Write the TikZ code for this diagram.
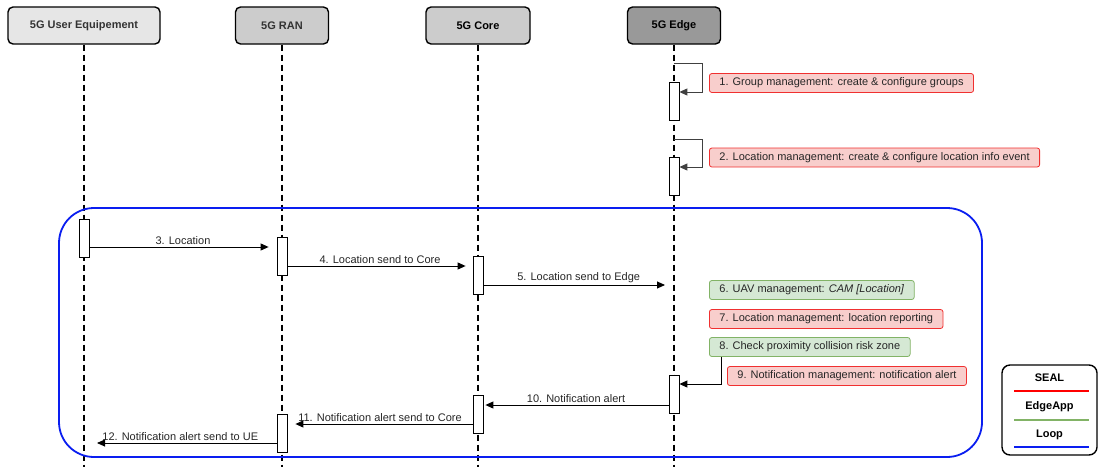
\documentclass[tikz,border=0pt]{standalone}
\usepackage{fontspec}
\setmainfont{Liberation Sans}
\usepackage{xcolor}
\definecolor{HeadLight}{HTML}{E6E6E6}
\definecolor{HeadMid}{HTML}{CCCCCC}
\definecolor{HeadDark}{HTML}{999999}
\definecolor{SealFill}{HTML}{F8CECC}
\definecolor{SealDraw}{HTML}{F03030}
\definecolor{AppFill}{HTML}{D5E8D4}
\definecolor{AppDraw}{HTML}{82B366}
\definecolor{LoopBlue}{HTML}{0A1EF0}
\definecolor{TextGrey}{HTML}{333333}
\usepackage{tikz}
\usetikzlibrary{arrows.meta, positioning, calc}

\begin{document}
\begin{tikzpicture}[
  x=1pt, y=-1pt,
  headbox/.style={rectangle, rounded corners=5pt, draw=black, line width=1.4pt,
    minimum height=37pt, inner sep=0pt, align=center,
    font=\fontsize{11}{13}\selectfont\bfseries},
  actbox/.style={rectangle, draw=black, fill=white, line width=0.8pt,
    minimum width=10pt, minimum height=38pt, inner sep=0pt},
  sealbox/.style={rectangle, rounded corners=2.5pt, draw=SealDraw, fill=SealFill,
    line width=0.8pt, minimum height=19pt, inner xsep=10pt, inner ysep=0pt,
    anchor=west, font=\fontsize{11}{13}\selectfont, text=black!85},
  appbox/.style={sealbox, draw=AppDraw, fill=AppFill},
  lifeseg/.style={draw=black, line width=1.5pt},
  msg/.style={-{Triangle[length=8pt, width=7pt]}, line width=0.9pt},
  selfmsg/.style={msg, draw=black!75},
  msglabel/.style={midway, above, inner sep=2pt, font=\fontsize{11}{13}\selectfont,
    text=black!85},
  loopframe/.style={rounded corners=35pt, draw=LoopBlue, line width=1.8pt},
  legbox/.style={rectangle, rounded corners=8pt, draw=black, line width=1.4pt,
    minimum width=95pt, minimum height=90pt},
  legtxt/.style={font=\fontsize{11}{13}\selectfont\bfseries}
]
  \useasboundingbox (0,0) rectangle (1099,466);

  \node[headbox, fill=HeadLight, text=TextGrey, minimum width=152pt] (ue)   at (84,25.5)  {5G User Equipement};
  \node[headbox, fill=HeadMid,   text=TextGrey, minimum width=93pt]  (ran)  at (282,25.5) {5G RAN};
  \node[headbox, fill=HeadMid,   minimum width=104pt]                (core) at (478,25.5) {5G Core};
  \node[headbox, fill=HeadDark,  minimum width=93pt]                 (edge) at (674,25.5) {5G Edge};

  \foreach \n in {ue,ran,core,edge}
    \foreach \k in {0,...,42}
      \draw[lifeseg] ([yshift=-\k*10pt]\n.south) -- ++(0,6);

  \draw[loopframe] (59,208) rectangle (982,457);

  \node[actbox] (edgeA1) at (674,101)   {};
  \node[actbox] (edgeA2) at (674,176.5) {};
  \node[actbox] (ueA)    at (84,238)    {};
  \node[actbox] (ranA1)  at (282,256.5) {};
  \node[actbox] (coreA1) at (478,275.5) {};
  \node[actbox] (edgeA3) at (674,394)   {};
  \node[actbox] (coreA2) at (478,414.5) {};
  \node[actbox] (ranA2)  at (282,433)   {};

  \coordinate (r1a) at (0,63);   \coordinate (r1) at (0,92);
  \coordinate (r2a) at (0,139);  \coordinate (r2) at (0,167);
  \coordinate (r3) at (0,247);   \coordinate (r4) at (0,266);
  \coordinate (r5) at (0,285);   \coordinate (r9) at (0,384);
  \coordinate (r10) at (0,405);  \coordinate (r11) at (0,424);
  \coordinate (r12) at (0,443);

  \node[sealbox] (l1) at (709,83)    {1. Group management: create \& configure groups};
  \node[sealbox] (l2) at (709,157.5) {2. Location management: create \& configure location info event};
  \node[appbox]  (l6) at (709,290)   {6. UAV management: \textit{CAM [Location]}};
  \node[sealbox] (l7) at (709,319)   {7. Location management: location reporting};
  \node[appbox]  (l8) at (709,347)   {8. Check proximity collision risk zone};
  \node[sealbox] (l9) at (727,376)   {9. Notification management: notification alert};

  \draw[selfmsg] (edge.south |- r1a) -- ++(28,0) |- (edgeA1.east |- r1);
  \draw[selfmsg] (edge.south |- r2a) -- ++(28,0) |- (edgeA2.east |- r2);

  \draw[msg, shorten >=8pt] (ueA.east |- r3) -- (ranA1.west |- r3) node[msglabel] {3. Location};
  \draw[msg, shorten >=7pt] (ranA1.east |- r4) -- (coreA1.west |- r4) node[msglabel] {4. Location send to Core};
  \draw[msg, shorten >=9pt] (coreA1.east |- r5) -- (edge.south |- r5) node[msglabel] {5. Location send to Edge};
  \draw[msg] ([xshift=12pt]l8.south west) |- (edgeA3.east |- r9);
  \draw[msg, shorten >=2pt] (edgeA3.west |- r10) -- (coreA2.east |- r10) node[msglabel] {10. Notification alert};
  \draw[msg, shorten >=8pt] (coreA2.west |- r11) -- (ranA2.east |- r11) node[msglabel] {11. Notification alert send to Core};
  \draw[msg, shorten >=13pt] (ranA2.west |- r12) -- (ue.south |- r12) node[msglabel] {12. Notification alert send to UE};

  \node[legbox] (legend) at (1049.5,410) {};
  \node[legtxt] (seal)    at (1049.5,378) {SEAL};
  \node[legtxt] (edgeapp) at (1049.5,407) {EdgeApp};
  \node[legtxt] (loop)    at (1049.5,435) {Loop};
  \draw[draw=red, line width=1.3pt]      (1014,391) -- (1089,391);
  \draw[draw=AppDraw, line width=1.3pt]  (1014,420) -- (1089,420);
  \draw[draw=LoopBlue, line width=1.3pt] (1014,447) -- (1089,447);
\end{tikzpicture}
\end{document}
